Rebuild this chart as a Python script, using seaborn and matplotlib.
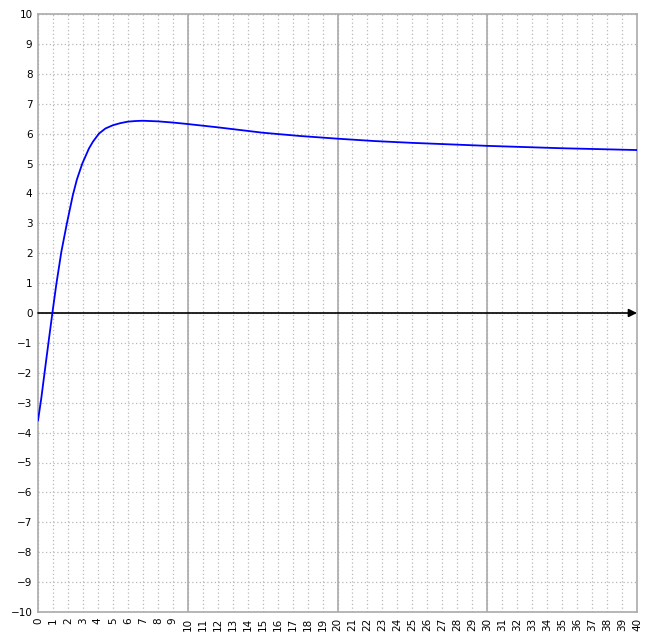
import matplotlib
matplotlib.use("agg")
import matplotlib.pyplot as plt
import seaborn as sns

# values
x_vals = [0, 0.22, 0.45, 0.71, 0.96, 1.22, 1.56, 1.93, 2.33, 2.6, 2.96, 3.4,
          3.67, 4.07, 4.5, 5.0, 5.5, 6.0, 6.5, 7.0, 8.0, 9.0, 10, 12, 15,
          17.5, 20, 22.5, 25, 27.5, 30, 35, 40]
y_vals = [-3.6, -2.85, -1.95, -0.95, 0, 0.95, 2.05, 3.0, 3.95, 4.47, 5, 5.5,
          5.73, 6.0, 6.17, 6.28, 6.35, 6.40, 6.42, 6.43, 6.41, 6.37, 6.32, 6.21, 6.03,
          5.92, 5.83, 5.75, 5.69, 5.64, 5.59, 5.51, 5.45]

x_ticks = list(range(0, 41))
y_ticks = list(range(-10, 11))
major_x = [10, 20, 30]

sns.set_style("white")
plt.rcParams['font.family'] = ['DejaVu Sans']

fig = plt.figure(figsize=(6.52, 6.37), dpi=100)
ax = fig.add_axes([38 / 652, 25 / 637, 599 / 652, 598 / 637])

ax.set_xlim(0, 40)
ax.set_ylim(-10, 10)
ax.set_xticks(x_ticks)
ax.set_yticks(y_ticks)
ax.set_xticklabels([str(t) for t in x_ticks], rotation=90)
ax.tick_params(length=0, labelsize=7.5, pad=4, colors='black')

ax.grid(True, linestyle=(0, (1, 2)), color='#b8b8b8', linewidth=0.9)
for xv in major_x:
    ax.axvline(xv, color='#aaaaaa', linewidth=1.2, zorder=1)

for s in ax.spines.values():
    s.set_color('#aaaaaa')
    s.set_linewidth(1.2)

ax.annotate('', xy=(40, 0), xytext=(0, 0),
            arrowprops=dict(arrowstyle='-|>', color='black', lw=1.2,
                            mutation_scale=12, shrinkA=0, shrinkB=0),
            zorder=3)

sns.lineplot(x=x_vals, y=y_vals, color='blue', linewidth=1.3, ax=ax,
             sort=False, zorder=4)

fig.savefig('out.png', dpi=100)
